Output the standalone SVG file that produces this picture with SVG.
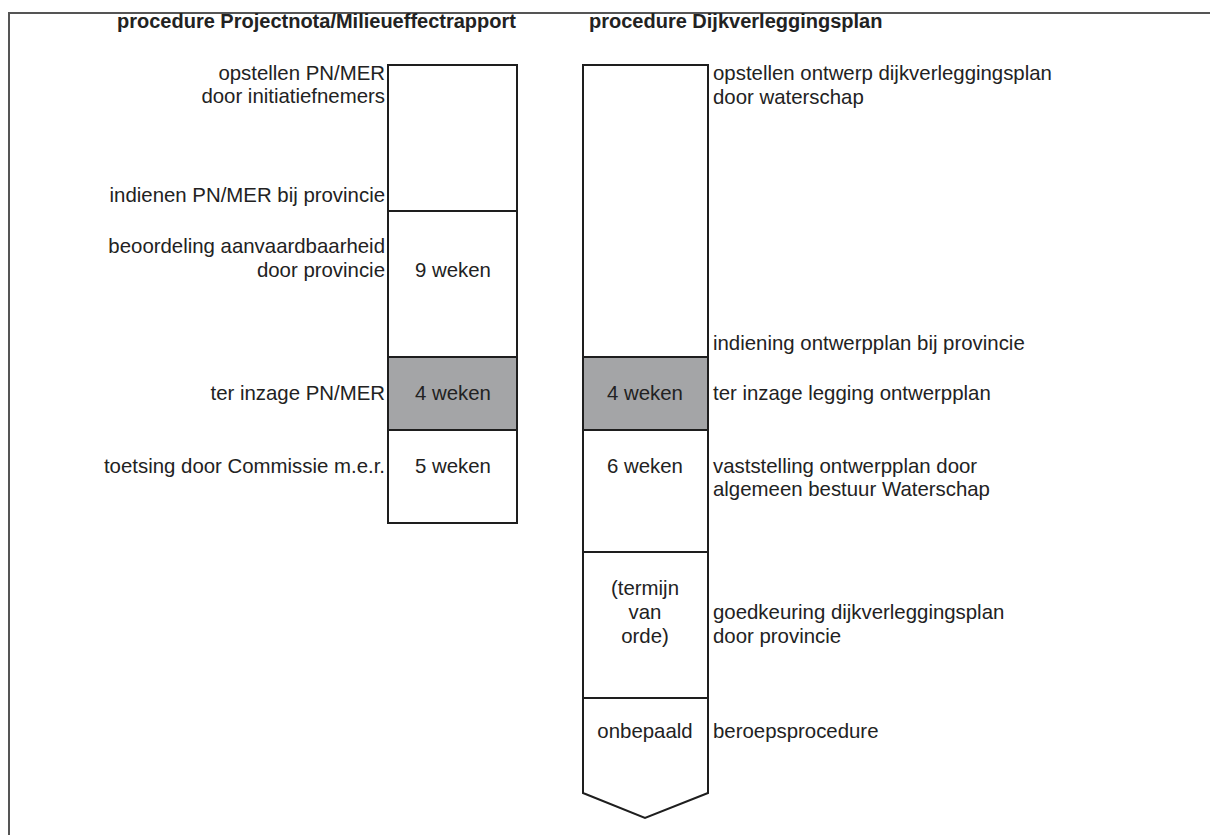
<svg xmlns="http://www.w3.org/2000/svg" width="1210" height="835" viewBox="0 0 1210 835">
<style>
  .t { font-family: "Liberation Sans", Arial, sans-serif; font-size: 20.4px; fill: #222; }
  .h { font-family: "Liberation Sans", Arial, sans-serif; font-size: 20px; font-weight: bold; fill: #222; }
  .r { text-anchor: end; }
  .m { text-anchor: middle; }
  .seg { fill: #fff; stroke: #1e1e1e; stroke-width: 2; }
  .gray { fill: #a4a5a7; stroke: #1e1e1e; stroke-width: 2; }
  .frame { fill: none; stroke: #555; stroke-width: 2; }
</style>
<rect width="1210" height="835" fill="#fff"/>
<g id="frame">
  <polyline class="frame" points="9,835 9,13 1210,13"/>
</g>
<g id="titles">
  <text class="h" x="117" y="28">procedure Projectnota/Milieueffectrapport</text>
  <text class="h" x="589" y="28">procedure Dijkverleggingsplan</text>
</g>
<g id="left-1">
  <rect class="seg" x="388" y="65" width="129" height="146"/>
  <text class="t r" x="385" y="80">opstellen PN/MER</text>
  <text class="t r" x="385" y="103">door initiatiefnemers</text>
  <text class="t r" x="385" y="202">indienen PN/MER bij provincie</text>
</g>
<g id="left-2">
  <rect class="seg" x="388" y="211" width="129" height="146"/>
  <text class="t r" x="385" y="253">beoordeling aanvaardbaarheid</text>
  <text class="t r" x="385" y="277">door provincie</text>
  <text class="t m" x="453" y="277">9 weken</text>
</g>
<g id="left-3">
  <rect class="gray" x="388" y="357" width="129" height="73"/>
  <text class="t r" x="385" y="400">ter inzage PN/MER</text>
  <text class="t m" x="453" y="400">4 weken</text>
</g>
<g id="left-4">
  <rect class="seg" x="388" y="430" width="129" height="93"/>
  <text class="t r" x="385" y="473">toetsing door Commissie m.e.r.</text>
  <text class="t m" x="453" y="473">5 weken</text>
</g>
<g id="right-1">
  <rect class="seg" x="583" y="65" width="125" height="292"/>
  <text class="t" x="713" y="80">opstellen ontwerp dijkverleggingsplan</text>
  <text class="t" x="713" y="104">door waterschap</text>
  <text class="t" x="713" y="350">indiening ontwerpplan bij provincie</text>
</g>
<g id="right-2">
  <rect class="gray" x="583" y="357" width="125" height="73"/>
  <text class="t m" x="645" y="400">4 weken</text>
  <text class="t" x="713" y="400">ter inzage legging ontwerpplan</text>
</g>
<g id="right-3">
  <rect class="seg" x="583" y="430" width="125" height="122"/>
  <text class="t m" x="645" y="473">6 weken</text>
  <text class="t" x="713" y="473">vaststelling ontwerpplan door</text>
  <text class="t" x="713" y="496">algemeen bestuur Waterschap</text>
</g>
<g id="right-4">
  <rect class="seg" x="583" y="552" width="125" height="146"/>
  <text class="t m" x="645" y="595">(termijn</text>
  <text class="t m" x="645" y="619">van</text>
  <text class="t m" x="645" y="643">orde)</text>
  <text class="t" x="713" y="619">goedkeuring dijkverleggingsplan</text>
  <text class="t" x="713" y="643">door provincie</text>
</g>
<g id="right-5">
  <path class="seg" d="M583,698 L708,698 L708,793 L645,818 L583,793 Z"/>
  <text class="t m" x="645" y="738">onbepaald</text>
  <text class="t" x="713" y="738">beroepsprocedure</text>
</g>
</svg>
